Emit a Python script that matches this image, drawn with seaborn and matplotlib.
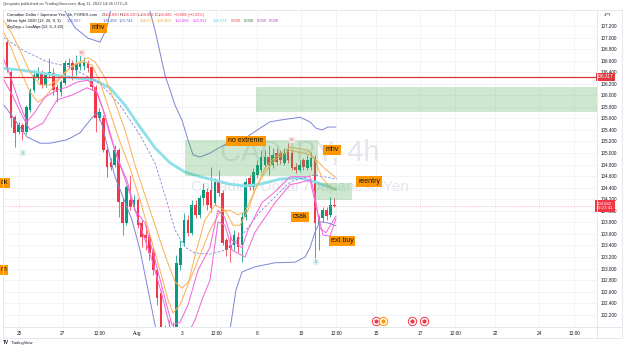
import matplotlib
matplotlib.use("Agg")
import matplotlib.pyplot as plt
import numpy as np
import pandas as pd
import seaborn as sns
from matplotlib.patches import Rectangle

# ---------------- data (4h candles, CADJPY) ----------------
opens = [106.92, 106.40, 105.62, 105.36, 105.49, 105.36, 105.75, 106.09, 106.32, 106.40,
         106.18, 106.35, 106.39, 106.14, 106.06, 106.21, 106.52, 106.56, 106.44, 106.49,
         106.51, 106.56, 106.49, 106.14, 105.61, 105.61, 105.05, 104.85, 104.79, 105.05,
         104.15, 103.79, 104.19, 104.07, 104.19, 103.79, 103.58, 103.55, 103.29, 102.97,
         102.58, 101.85, 101.76, 101.94, 101.85, 103.06, 103.44, 103.84, 103.62, 104.10,
         103.93, 104.22, 104.33, 104.36, 104.13, 104.50, 104.31, 103.49, 103.41, 103.41,
         103.55, 103.41, 103.89, 104.57, 104.41, 104.62, 104.71, 104.79, 104.93, 104.79,
         105.00, 105.00, 104.83, 105.05, 105.00, 104.76, 104.71, 104.88, 104.74, 104.76,
         104.91, 103.75, 103.88, 104.01, 103.93, 104.09]
highs = [106.99, 106.44, 105.66, 105.54, 105.52, 105.83, 106.13, 106.44, 106.49, 106.44,
         106.40, 106.65, 106.47, 106.20, 106.26, 106.61, 106.65, 106.61, 106.70, 106.70,
         106.66, 106.61, 106.52, 106.18, 105.78, 105.66, 105.09, 104.91, 105.14, 105.09,
         104.22, 104.45, 104.62, 104.27, 104.22, 103.84, 103.75, 103.63, 103.36, 103.01,
         102.63, 102.02, 102.11, 102.07, 103.23, 103.49, 103.96, 103.93, 104.19, 104.19,
         104.27, 104.48, 104.39, 104.76, 104.57, 104.71, 104.36, 103.53, 103.58, 103.67,
         103.63, 103.98, 104.57, 104.62, 104.74, 104.88, 105.05, 105.05, 105.14, 105.09,
         105.09, 105.05, 105.09, 105.17, 105.05, 104.83, 104.88, 104.91, 104.97, 105.02,
         104.97, 103.93, 104.07, 104.07, 104.24, 104.22]
lows = [106.40, 105.45, 105.10, 105.33, 105.23, 105.33, 105.71, 106.06, 106.26, 106.13,
        106.14, 106.30, 106.01, 105.88, 105.99, 106.18, 106.47, 106.26, 106.35, 106.44,
        106.44, 106.40, 106.09, 105.36, 105.57, 105.02, 104.59, 104.71, 104.76, 103.89,
        103.58, 103.75, 104.01, 104.01, 103.70, 103.37, 103.32, 103.15, 102.89, 102.37,
        101.68, 101.50, 101.59, 101.56, 101.76, 102.98, 103.39, 103.56, 103.58, 103.88,
        103.88, 104.10, 104.01, 103.98, 104.10, 104.26, 103.41, 103.22, 103.11, 103.32,
        103.29, 103.11, 103.84, 104.36, 104.36, 104.57, 104.67, 104.74, 104.62, 104.74,
        104.79, 104.81, 104.79, 104.83, 104.71, 104.66, 104.67, 104.71, 104.71, 104.71,
        103.18, 103.32, 103.81, 103.84, 103.89, 104.07]
closes = [106.44, 105.61, 105.35, 105.49, 105.36, 105.80, 106.09, 106.35, 106.40, 106.18,
          106.35, 106.40, 106.09, 106.06, 106.23, 106.56, 106.56, 106.44, 106.54, 106.56,
          106.58, 106.47, 106.14, 105.61, 105.71, 105.05, 104.76, 104.76, 105.05, 104.15,
          103.79, 104.41, 104.07, 104.19, 103.75, 103.55, 103.53, 103.27, 102.97, 102.49,
          101.85, 101.68, 101.94, 101.80, 103.10, 103.36, 103.84, 103.62, 104.10, 103.93,
          104.22, 104.36, 104.10, 104.05, 104.50, 104.31, 103.44, 103.32, 103.36, 103.58,
          103.37, 103.89, 104.50, 104.41, 104.67, 104.79, 104.93, 104.93, 104.79, 104.97,
          104.85, 104.88, 105.00, 104.88, 104.74, 104.71, 104.79, 104.76, 104.88, 104.91,
          103.79, 103.88, 104.01, 103.91, 104.10, 104.08]

# indicator lines (bar index, price)
upper_x = [-1.82, 8.57, 13.77, 17.66, 21.04, 24.16, 25.71, 27.27, 29.35, 34.55, 36.36, 38.44, 41.04,
           43.64, 45.45, 47.01, 48.31, 50.13, 52.73, 55.32, 59.22, 62.34, 65.71, 68.31, 70.91,
           76.10, 78.70, 80.26, 81.82, 83.38, 85.45]
upper_y = [107.82, 107.74, 107.60, 107.17, 106.99, 106.92, 107.13, 107.56, 108.34, 108.34, 107.65,
           107.13, 106.35, 105.83, 105.57, 105.23, 104.97, 104.93, 105.00, 105.10, 105.23, 105.28,
           105.43, 105.54, 105.57, 105.62, 105.54, 105.43, 105.40, 105.45, 105.45]
lower_x = [-1.82, 1.56, 5.19, 8.57, 11.17, 15.58, 18.96, 21.56, 23.38, 24.68, 28.05, 32.47, 34.55,
           37.14, 39.22, 42.34, 50.13, 55.32, 57.92, 59.48, 61.04, 64.42, 69.61, 74.81, 77.40,
           78.70, 80.00, 81.30, 83.38, 85.45]
lower_y = [105.92, 105.62, 105.28, 105.17, 105.17, 105.23, 105.35, 105.57, 105.71, 105.49, 104.59,
           103.84, 103.32, 102.46, 101.76, 100.90, 100.72, 101.24, 101.94, 102.63, 102.94, 103.03,
           103.10, 103.11, 103.20, 103.36, 103.63, 103.81, 103.79, 103.74]
mid_x = [-1.82, 4.16, 10.39, 16.36, 24.16, 29.35, 34.55, 38.44, 41.04, 43.64, 46.23, 48.83, 52.73,
         56.62, 60.52, 65.71, 73.51, 79.48, 85.71]
mid_y = [107.04, 106.78, 106.58, 106.49, 106.21, 105.83, 105.31, 104.83, 104.27, 103.67, 103.37,
         103.27, 103.25, 103.32, 103.53, 103.98, 104.50, 104.62, 104.55]
slow_x = [-1.82, 0.78, 3.38, 5.97, 8.57, 11.17, 13.77, 16.36, 18.96, 21.04, 22.86, 25.45, 28.05,
          30.65, 33.25, 35.84, 38.44, 41.04, 43.64, 45.45, 47.53, 50.13, 52.73, 55.32, 57.92,
          60.00, 61.82, 64.42, 67.01, 69.61, 73.51, 78.70, 80.78, 82.86, 85.45]
slow_y = [107.39, 107.13, 106.78, 106.40, 106.18, 106.18, 106.30, 106.47, 106.58, 106.65, 106.58,
          106.30, 105.88, 105.40, 104.79, 104.27, 103.75, 103.23, 102.77, 102.66, 102.80, 103.23,
          103.67, 103.98, 104.01, 103.93, 103.98, 104.36, 104.67, 104.88, 105.05, 104.97, 104.85,
          104.71, 104.577]
fast_x = [-1.82, 0.78, 3.38, 5.97, 8.05, 9.87, 12.47, 15.06, 17.66, 20.26, 22.08, 24.16, 26.75,
          29.35, 31.95, 34.55, 37.14, 39.74, 41.82, 43.12, 44.94, 47.01, 48.83, 51.43, 54.03,
          56.62, 58.70, 60.52, 62.60, 64.42, 67.01, 69.61, 73.51, 78.18, 80.00, 81.82, 83.90, 85.45]
fast_y = [107.22, 106.87, 106.44, 106.06, 105.88, 105.97, 106.18, 106.40, 106.54, 106.58, 106.52,
          106.23, 105.71, 105.19, 104.74, 104.19, 103.58, 102.97, 102.46, 102.23, 102.37, 102.72,
          103.23, 103.84, 104.10, 104.01, 103.75, 103.75, 104.01, 104.36, 104.74, 104.93, 105.10,
          105.05, 104.88, 104.57, 104.41, 104.359]
cyan_x = [-1.82, 3.38, 8.57, 15.58, 22.86, 26.75, 30.65, 34.55, 38.44, 42.34, 46.23, 50.13, 54.03,
          57.92, 61.82, 65.71, 70.91, 76.10, 80.00, 85.45]
cyan_y = [106.47, 106.44, 106.39, 106.32, 106.26, 106.13, 105.83, 105.45, 105.09, 104.83, 104.67,
          104.59, 104.53, 104.46, 104.43, 104.46, 104.55, 104.57, 104.50, 104.372]
pink1_x = [-1.82, 0.78, 3.38, 5.19, 7.27, 9.87, 12.99, 15.58, 18.18, 21.04, 22.86, 24.94, 26.75,
           28.83, 31.17, 33.25, 35.84, 38.44, 40.26, 42.86, 44.94, 47.01, 49.61, 52.73, 54.81,
           56.62, 58.44, 61.04, 62.60, 66.23, 69.61, 73.51, 78.70, 80.00, 81.30, 82.86, 85.45]
pink1_y = [106.78, 106.35, 105.83, 105.54, 105.71, 105.97, 106.09, 106.14, 106.23, 106.26, 106.13,
           105.75, 105.31, 104.88, 104.53, 104.01, 103.79, 103.15, 102.68, 102.02, 102.07, 102.37,
           102.97, 103.37, 104.01, 103.88, 103.49, 103.36, 103.67, 104.14, 104.33, 104.59, 104.59,
           104.27, 103.70, 103.62, 103.911]
pink2_x = [-1.82, 1.30, 4.16, 5.97, 9.35, 12.99, 17.14, 20.78, 23.38, 25.45, 28.05, 31.17, 34.55,
           37.66, 40.26, 42.86, 46.23, 48.83, 50.65, 52.73, 54.81, 56.62, 58.44, 61.82, 64.42,
           69.61, 73.51, 78.70, 80.52, 82.08, 83.90, 85.45]
pink2_y = [106.39, 106.01, 105.62, 105.40, 105.52, 105.92, 106.01, 106.13, 106.06, 105.66, 105.05,
           104.45, 103.75, 103.15, 102.54, 101.85, 101.76, 102.11, 102.46, 102.80, 103.81, 103.75,
           103.32, 103.20, 103.63, 104.14, 104.45, 104.53, 104.01, 103.58, 103.56, 103.868]

time_tick_pos = [3.1, 14.5, 23.9, 33.8, 45.5, 54.3, 65.0, 76.4, 85.5, 95.8, 107.3, 116.4, 126.8, 138.2, 147.3]
time_tick_labels = ["25", "27", "12:00", "Aug", "3", "12:00", "8", "10", "12:00",
                    "15", "17", "12:00", "22", "24", "12:00"]
price_ticks = [102.2, 102.4, 102.6, 102.8, 103.0, 103.2, 103.4, 103.6, 103.8, 104.0, 104.2,
               104.4, 104.6, 104.8, 105.0, 105.2, 105.4, 105.6, 105.8, 106.0, 106.2, 106.4,
               106.6, 106.8, 107.0, 107.2]
last_price = 104.082
hline_price = 106.317

# ---------------- style ----------------
sns.set_theme(style="white")
plt.rcParams['font.family'] = ['Liberation Sans', 'DejaVu Sans']

W, H = 625, 347
L, R, T, B = 3, 597, 11, 327
X0, DX = 7.0, 3.85          # pixel of bar 0, pixels per bar
Y_REF, PX_PER = 26.0, 57.75  # pixel of 107.2, pixels per 1.0 JPY

fig = plt.figure(figsize=(W / 100, H / 100), dpi=100)
fig.patch.set_facecolor("white")
ax = fig.add_axes([L / W, (H - B) / H, (R - L) / W, (B - T) / H])
ax.set_facecolor("white")
ax.set_xlim((L - X0) / DX, (R - X0) / DX)
ax.set_ylim(107.2 - (B - Y_REF) / PX_PER, 107.2 + (Y_REF - T) / PX_PER)

def fx(x):
    return x / W

def fy(y):
    return 1 - y / H

def px2x(x):
    return (x - X0) / DX

def px2p(y):
    return 107.2 - (y - Y_REF) / PX_PER

# grid
for p in price_ticks:
    ax.axhline(p, color="#f0f3fa", lw=0.6, zorder=0)
for t in time_tick_pos:
    ax.axvline(t, color="#f0f3fa", lw=0.6, zorder=0)

# watermark
ax.text(0.5, 0.551, "CADJPY, 4h", transform=ax.transAxes, ha="center", va="center",
        fontsize=21, color="#e4e6eb", zorder=0.5)
ax.text(0.5, 0.443, "Canadian Dollar / Japanese Yen", transform=ax.transAxes, ha="center",
        va="center", fontsize=11, color="#e4e6eb", zorder=0.5)

# candles
o = np.array(opens); h = np.array(highs); lo = np.array(lows); c = np.array(closes)
idx = np.arange(len(o))
up = c >= o
cols = np.where(up, "#089981", "#f23645")
ax.vlines(idx, lo, h, colors=cols, lw=0.55, zorder=3)
body = np.maximum(np.abs(c - o), 0.012)
ax.bar(idx, body, bottom=np.minimum(o, c), width=0.7, color=cols, linewidth=0, zorder=3.5)

# indicator lines via seaborn
def draw(xs, ys, color, lw, ls="-", z=5):
    sns.lineplot(x=xs, y=ys, ax=ax, color=color, linewidth=lw, linestyle=ls,
                 zorder=z, legend=False, sort=False, estimator=None)

draw(cyan_x, cyan_y, "#8ddfe8", 2.0, z=4.2)
draw(upper_x, upper_y, "#7b86d6", 0.7)
draw(lower_x, lower_y, "#7b86d6", 0.7)
draw(mid_x, mid_y, "#7b86d6", 0.6, ls=(0, (3, 2)))
draw(slow_x, slow_y, "#fbb45c", 0.75)
draw(fast_x, fast_y, "#fbb45c", 0.75)
draw(pink1_x, pink1_y, "#f36ad9", 0.75)
draw(pink2_x, pink2_y, "#f36ad9", 0.75)

# horizontal lines
ax.axhline(hline_price, color="#d93338", lw=0.9, zorder=6)
ax.axhline(last_price, color="#f7a3aa", lw=0.6, ls=(0, (1, 1.5)), zorder=6)

# green zones (pixel-measured rectangles converted to data)
for (x1, y1, x2, y2) in [(256, 87, 597, 112), (185, 140, 318, 176), (315, 183, 352, 200)]:
    ax.add_patch(Rectangle((px2x(x1), px2p(y2)), px2x(x2) - px2x(x1), px2p(y1) - px2p(y2),
                           facecolor="#4caf50", alpha=0.28, edgecolor="none", zorder=6.5))

# orange text labels
def tag(x, y, s, ha="center"):
    ax.text(px2x(x), px2p(y), s, fontsize=5, color="#111111", ha=ha, va="center", zorder=8,
            bbox=dict(boxstyle="square,pad=0.28", fc="#ff9800", ec="none"))

tag(98.5, 28, "mhv")
tag(246, 141, "no extreme")
tag(332, 150, "mhv")
tag(369, 181.5, "reentry")
tag(300, 217, "csak")
tag(342, 241, "ext buy")
tag(1, 183, "ak", ha="left")
tag(0.5, 270, "m", ha="left")

# zigzag small labels
def zz(x, y, s, fc, tc):
    ax.text(px2x(x), px2p(y), s, fontsize=2.2, color=tc, ha="center", va="center", zorder=8,
            bbox=dict(boxstyle="round,pad=0.35", fc=fc, ec="none"))

zz(23, 153, "LL", "#d9f1ee", "#4a9a8f")
zz(82, 53, "HH", "#fbe3e4", "#c56a6f")
zz(292, 140, "HH", "#f4e6e6", "#c56a6f")
zz(316, 262, "LL", "#d9f1ee", "#4a9a8f")

# event markers
ev_x = [95.8, 97.7, 105.2, 108.3]
ev_c = ["#f23645", "#ff9800", "#f23645", "#f23645"]
ev_p = px2p(321)
for ex, ec in zip(ev_x, ev_c):
    ax.plot([ex], [ev_p], marker="o", ms=6, mfc="white", mec=ec, mew=0.7, zorder=7, clip_on=False)
    ax.plot([ex], [ev_p], marker="o", ms=2, mfc=ec, mec=ec, zorder=7.1, clip_on=False)

# axes / ticks
for s in ax.spines.values():
    s.set_visible(False)
ax.set_xticks(time_tick_pos)
ax.set_xticklabels(time_tick_labels)
ax.set_yticks(price_ticks)
ax.set_yticklabels([f"{p:.3f}" for p in price_ticks])
ax.yaxis.tick_right()
ax.tick_params(axis="x", length=0, pad=3.0, labelsize=3.4, colors="#131722")
ax.tick_params(axis="y", length=0, pad=3.0, labelsize=3.3, colors="#131722")
ax.set_xlabel("")
ax.set_ylabel("")

# price labels on the axis
ax.text(1.0, hline_price, "106.317", transform=ax.get_yaxis_transform(), ha="left", va="center",
        fontsize=3.3, color="white", zorder=10, clip_on=False,
        bbox=dict(boxstyle="square,pad=0.3", fc="#e0393e", ec="none"))
ax.text(1.0, last_price, "104.082\n02:23:41", transform=ax.get_yaxis_transform(), ha="left",
        va="center", fontsize=3.1, color="white", zorder=10, clip_on=False, linespacing=1.1,
        bbox=dict(boxstyle="square,pad=0.35", fc="#f23645", ec="none"))

# frame lines
fig.add_artist(plt.Line2D([fx(3), fx(622)], [fy(10), fy(10)], color="#e0e3eb", lw=0.6))
fig.add_artist(plt.Line2D([fx(3), fx(622)], [fy(327), fy(327)], color="#e0e3eb", lw=0.6))
fig.add_artist(plt.Line2D([fx(3), fx(622)], [fy(338), fy(338)], color="#e0e3eb", lw=0.6))
fig.add_artist(plt.Line2D([fx(597), fx(597)], [fy(10), fy(338)], color="#e0e3eb", lw=0.6))
fig.add_artist(plt.Line2D([fx(3), fx(3)], [fy(10), fy(338)], color="#e0e3eb", lw=0.6))
fig.add_artist(plt.Line2D([fx(622), fx(622)], [fy(10), fy(338)], color="#e0e3eb", lw=0.6))

# header texts
dark = "#131722"
fig.text(fx(3), fy(4.5), "Qespada published on TradingView.com, Aug 11, 2022 14:36 UTC+8",
         fontsize=3.0, color="#434651", va="center")
segs1 = [(7, "Canadian Dollar / Japanese Yen, 4h, FOREX.com", dark),
         (102, "O", dark), (105, "104.090", "#f23645"),
         (119.5, "H", dark), (122.5, "104.220", "#f23645"),
         (137.5, "L", dark), (140, "104.066", "#f23645"),
         (154.5, "C", dark), (157.5, "104.082", "#f23645"),
         (174, "\u22120.008 (\u22120.01%)", "#f23645")]
for x, s, col in segs1:
    fig.text(fx(x), fy(15), s, fontsize=3.0, color=col, va="center")
segs2 = [(7, "Mirror light 2020 (13, 26, 9, 3)", dark), (67, "104.567", "#5c6bc0"),
         (103, "105.458", "#5c6bc0"), (119, "103.744", "#5c6bc0"),
         (140, "104.577", "#f5a623"), (157, "104.359", "#f5a623"),
         (175, "103.868", "#e040fb"), (193, "103.911", "#e040fb"),
         (213, "104.372", "#4dd0e1"), (231, "0.000", "#f23645"),
         (244, "0.000", "#2e7d32"), (257, "0.000", "#ab47bc"), (269, "0.000", "#ab47bc")]
for x, s, col in segs2:
    fig.text(fx(x), fy(21), s, fontsize=3.0, color=col, va="center")
fig.text(fx(7), fy(27), "ZigZag++ LuxAlgo (12, 5, 2.22)", fontsize=3.0, color=dark, va="center")

fig.text(fx(604), fy(15), "JPY", fontsize=3.0, color=dark, va="center")
fig.text(fx(3), fy(343), "TV", fontsize=3.4, color=dark, va="center", fontweight="bold")
fig.text(fx(11), fy(343), "TradingView", fontsize=3.0, color=dark, va="center")

fig.savefig("out.png", dpi=100, facecolor="white")
